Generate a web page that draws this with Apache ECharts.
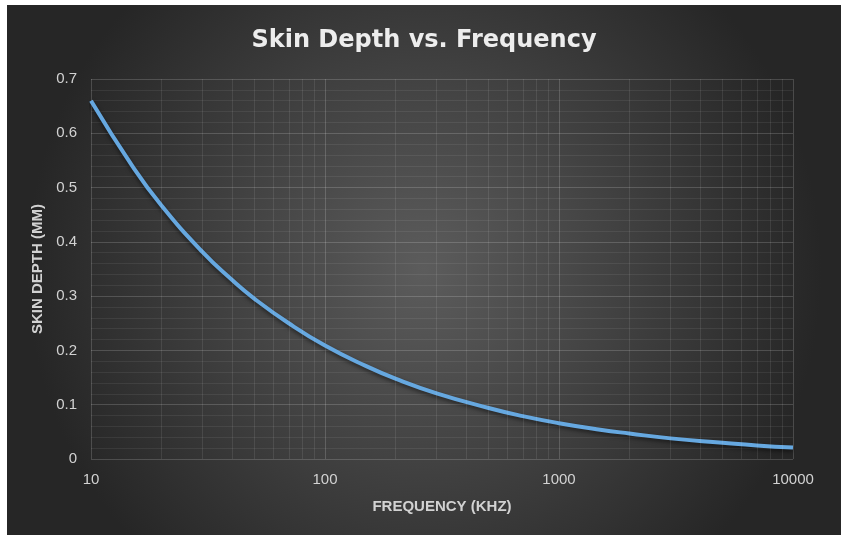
<!DOCTYPE html>
<html>
<head>
<meta charset="utf-8">
<script src="https://cdn.jsdelivr.net/npm/echarts@6/dist/echarts.min.js"></script>
<style>
html,body{margin:0;padding:0;background:#ffffff;width:841px;height:535px;overflow:hidden;}
#chart{position:absolute;left:7px;top:5px;width:834px;height:530px;}
</style>
</head>
<body>
<div id="chart"></div>
<script>
// Data
const frequencyKHz = [10, 15, 20, 30, 40, 50, 70, 100, 150, 200, 300, 500, 700, 1000, 1500, 2000, 3000, 5000, 7000, 10000];
const skinDepthMM  = [0.66, 0.54, 0.467, 0.381, 0.33, 0.295, 0.25, 0.209, 0.171, 0.148, 0.121, 0.094, 0.079, 0.066, 0.054, 0.047, 0.038, 0.030, 0.025, 0.021];
const yTicks = [0, 0.1, 0.2, 0.3, 0.4, 0.5, 0.6, 0.7];
const xTicks = [10, 100, 1000, 10000];
const xMinorGrid = [20,30,40,50,60,70,80,90,200,300,400,500,600,700,800,900,2000,3000,4000,5000,6000,7000,8000,9000];

const chart = echarts.init(document.getElementById('chart'));
const labelColor = '#d2d2d2';
const font = '"Liberation Sans", Arial, sans-serif';

chart.setOption({
  backgroundColor: {
    type: 'radial', x: 0.5, y: 0.5, r: 0.75,
    colorStops: [
      {offset: 0, color: '#5c5c5c'},
      {offset: 1, color: '#262626'}
    ]
  },
  animation: false,
  title: {
    text: 'Skin Depth vs. Frequency',
    left: 'center',
    top: 19,
    textStyle: {color: '#ededed', fontSize: 24, fontWeight: 'bold', fontFamily: '"DejaVu Sans", sans-serif'}
  },
  grid: {left: 84, top: 74, right: 48, bottom: 76, containLabel: false},
  xAxis: {
    type: 'log',
    logBase: 10,
    min: 10,
    max: 10000,
    name: 'FREQUENCY (KHZ)',
    nameLocation: 'middle',
    nameGap: 40,
    nameTextStyle: {color: labelColor, fontSize: 15, fontWeight: 'bold', fontFamily: font},
    axisLine: {show: false},
    axisTick: {show: false},
    axisLabel: {color: labelColor, fontSize: 15, margin: 13, fontFamily: font,
      formatter: v => { const t = xTicks.find(x => Math.abs(x - v) < 1e-6); return t === undefined ? '' : String(t); }},
    splitLine: {show: true, lineStyle: {color: 'rgba(255,255,255,0.17)', width: 1}}
  },
  yAxis: {
    type: 'value',
    min: 0,
    max: 0.7,
    interval: 0.1,
    name: 'SKIN DEPTH (MM)',
    nameLocation: 'middle',
    nameGap: 39,
    nameTextStyle: {color: labelColor, fontSize: 15, fontWeight: 'bold', fontFamily: font},
    axisLine: {show: false},
    axisTick: {show: false},
    axisLabel: {color: labelColor, fontSize: 15, margin: 14, fontFamily: font,
      formatter: v => { const t = yTicks.find(x => Math.abs(x - v) < 1e-9); return t === undefined ? '' : String(t); }},
    splitLine: {show: true, lineStyle: {color: 'rgba(255,255,255,0.17)', width: 1}},
    minorTick: {show: false, splitNumber: 5},
    minorSplitLine: {show: true, lineStyle: {color: 'rgba(255,255,255,0.07)', width: 1}}
  },
  series: [
    {
      type: 'line',
      z: 1,
      silent: true,
      data: [],
      markLine: {
        silent: true,
        symbol: 'none',
        label: {show: false},
        lineStyle: {color: 'rgba(255,255,255,0.09)', width: 1, type: 'solid'},
        data: xMinorGrid.map(v => ({xAxis: v}))
      }
    },
    {
      type: 'line',
      z: 3,
      smooth: true,
      showSymbol: false,
      data: frequencyKHz.map((f, i) => [f, skinDepthMM[i]]),
      lineStyle: {
        color: '#66a8e0',
        width: 4,
        shadowColor: 'rgba(0,0,0,0.55)',
        shadowBlur: 4,
        shadowOffsetY: 2
      }
    }
  ]
});
</script>
</body>
</html>
